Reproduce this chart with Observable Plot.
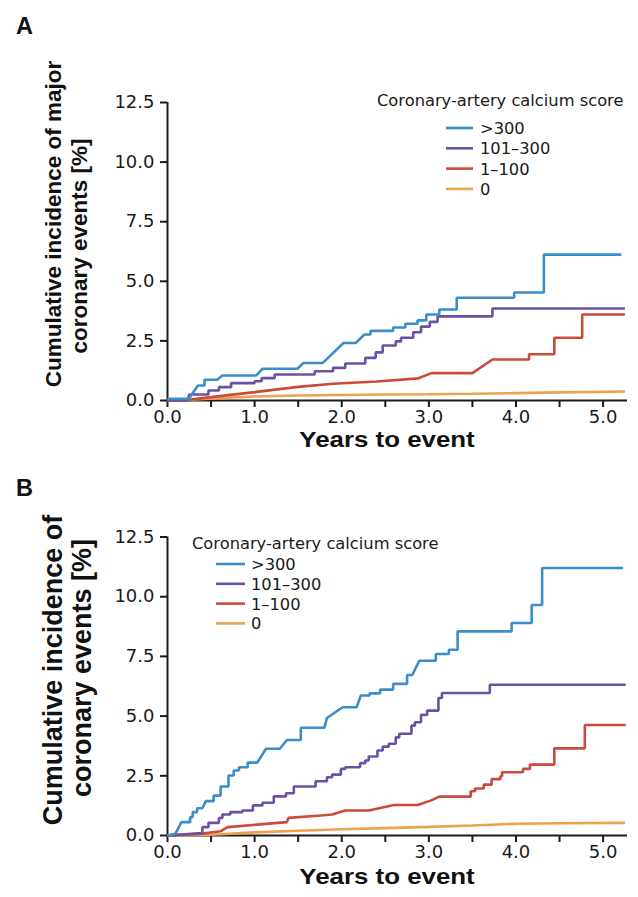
<!DOCTYPE html>
<html><head><meta charset="utf-8">
<script src="https://cdn.jsdelivr.net/npm/d3@7"></script>
<script src="https://cdn.jsdelivr.net/npm/@observablehq/plot@0.6"></script>
<style>
body{margin:0;background:#fff;}
#wrap{position:relative;width:638px;height:897px;overflow:hidden;background:#fff;}
#wrap svg{position:absolute;left:0;overflow:visible;}
.tag{position:absolute;left:16px;font:bold 23.5px "Liberation Sans",Arial,sans-serif;color:#111;}
</style></head><body><div id="wrap"><div class="tag" style="top:13px">A</div><div class="tag" style="top:475px">B</div></div>
<script>
const groups = [">300", "101–300", "1–100", "0"];
const colors = ["#3a8ec9", "#6a51a3", "#cb4a3b", "#eca24f"];
const xTicks = [0, 0.5, 1, 1.5, 2, 2.5, 3, 3.5, 4, 4.5, 5];
const yTicks = [0, 2.5, 5, 7.5, 10, 12.5];
const legendTitle = "Coronary-artery calcium score";
const xTitle = "Years to event";
const yTitleA = ["Cumulative incidence of major", "coronary events [%]"];
const yTitleB = ["Cumulative incidence of", "coronary events [%]"];

// Panel A
const aX300 = [0,0.245,0.35,0.425,0.425,0.57,0.63,1.02,1.09,1.49,1.56,1.78,2.02,2.16,2.26,2.33,2.33,2.59,2.59,2.73,2.73,2.87,2.87,2.97,2.97,3.12,3.12,3.32,3.32,3.98,3.98,4.32,4.32,5.21];
const aY300 = [0.07,0.07,0.63,0.63,0.87,0.87,1.05,1.05,1.33,1.33,1.57,1.57,2.41,2.41,2.77,2.77,2.92,2.92,3.06,3.06,3.22,3.22,3.36,3.36,3.61,3.61,3.82,3.82,4.31,4.31,4.53,4.53,6.12,6.12];
const aX101 = [0,0.23,0.25,0.47,0.47,0.59,0.59,0.73,0.73,1.0,1.0,1.08,1.08,1.23,1.23,1.69,1.69,1.90,1.90,2.04,2.04,2.27,2.27,2.39,2.39,2.47,2.47,2.62,2.62,2.68,2.68,2.82,2.82,2.91,2.91,3.01,3.01,3.10,3.10,3.73,3.73,5.25];
const aY101 = [0,0,0.25,0.25,0.42,0.42,0.56,0.56,0.73,0.73,0.81,0.81,0.94,0.94,1.09,1.09,1.23,1.23,1.37,1.37,1.55,1.55,1.79,1.79,2.02,2.02,2.31,2.31,2.48,2.48,2.63,2.63,2.86,2.86,3.10,3.10,3.30,3.30,3.53,3.53,3.86,3.86];
const aX1 = [0,0.17,0.5,1.0,1.5,1.9,2.4,2.88,3.03,3.50,3.73,4.15,4.15,4.44,4.44,4.76,4.76,5.25];
const aY1 = [0,0,0.14,0.35,0.57,0.70,0.80,0.93,1.15,1.15,1.72,1.72,1.94,1.94,2.63,2.63,3.61,3.61];
const aX0 = [0,0.3,0.6,1.0,1.5,2.0,2.5,3.0,3.5,4.0,4.5,5.25];
const aY0 = [0,0.04,0.10,0.17,0.21,0.23,0.25,0.26,0.28,0.31,0.34,0.38];

// Panel B
const bX300 = [0,0.09,0.16,0.26,0.26,0.29,0.29,0.34,0.34,0.40,0.44,0.53,0.53,0.61,0.61,0.70,0.70,0.76,0.76,0.82,0.82,0.92,0.92,1.03,1.13,1.29,1.37,1.53,1.53,1.80,1.83,2.01,2.17,2.22,2.32,2.32,2.44,2.44,2.59,2.59,2.75,2.75,2.81,2.89,3.08,3.08,3.23,3.23,3.33,3.33,3.95,3.95,4.18,4.18,4.30,4.30,5.23];
const bY300 = [0,0.07,0.56,0.56,0.77,0.77,0.98,0.98,1.14,1.14,1.44,1.44,1.67,1.67,2.05,2.05,2.51,2.51,2.72,2.72,2.86,2.86,3.05,3.05,3.63,3.63,4.00,4.00,4.51,4.51,4.92,5.37,5.37,5.86,5.86,5.95,5.95,6.11,6.11,6.35,6.35,6.72,6.72,7.32,7.32,7.60,7.60,7.78,7.78,8.55,8.55,8.90,8.90,9.65,9.65,11.20,11.20];
const bX101 = [0,0.40,0.40,0.47,0.47,0.59,0.59,0.63,0.63,0.72,0.72,0.86,0.86,0.98,0.98,1.09,1.09,1.22,1.22,1.36,1.36,1.45,1.45,1.70,1.70,1.83,1.83,1.89,1.89,1.99,1.99,2.04,2.04,2.21,2.21,2.27,2.27,2.31,2.31,2.41,2.41,2.47,2.47,2.54,2.54,2.62,2.62,2.66,2.66,2.80,2.80,2.84,2.84,2.91,2.91,2.98,2.98,3.11,3.11,3.15,3.15,3.70,3.70,5.26];
const bY101 = [0,0.10,0.35,0.35,0.53,0.53,0.73,0.73,0.88,0.88,0.98,0.98,1.05,1.05,1.26,1.26,1.37,1.37,1.64,1.64,1.77,1.77,2.05,2.05,2.27,2.27,2.44,2.44,2.55,2.55,2.79,2.79,2.86,2.86,3.03,3.03,3.14,3.14,3.31,3.31,3.56,3.56,3.72,3.72,3.84,3.84,4.11,4.11,4.26,4.26,4.60,4.60,4.74,4.74,5.05,5.05,5.23,5.23,5.76,5.76,5.97,5.97,6.31,6.31];
const bX1 = [0,0.40,0.61,0.69,1.37,1.39,1.76,1.89,2.04,2.31,2.60,2.87,3.02,3.12,3.48,3.48,3.53,3.53,3.63,3.63,3.72,3.72,3.82,3.82,3.84,3.84,4.08,4.08,4.16,4.16,4.44,4.44,4.79,4.79,5.26];
const bY1 = [0,0.08,0.18,0.35,0.56,0.74,0.84,0.88,1.05,1.05,1.28,1.28,1.46,1.63,1.63,1.85,1.85,1.97,1.97,2.13,2.13,2.36,2.36,2.48,2.48,2.65,2.65,2.79,2.79,2.97,2.97,3.65,3.65,4.63,4.63];
const bX0 = [0,0.5,1.0,1.5,2.0,2.5,3.0,3.5,4.0,4.5,5.25];
const bY0 = [0,0.03,0.13,0.20,0.26,0.31,0.36,0.42,0.49,0.51,0.53];

function rows(list) {
  const out = [];
  list.forEach(([name, xs, ys]) => xs.forEach((x, i) => out.push({group: name, year: x, inc: ys[i]})));
  return out;
}

function panel(cfg) {
  const data = rows(cfg.series);
  const svg = Plot.plot({
    width: 638, height: cfg.height,
    marginLeft: 167, marginRight: 11, marginTop: cfg.mt, marginBottom: cfg.mb,
    style: {fontFamily: "'DejaVu Sans', sans-serif", fontSize: "18px", color: "#1a1a1a", background: "transparent", overflow: "visible"},
    x: {domain: [0, 5.28]},
    y: {domain: [0, 12.5]},
    color: {domain: groups, range: colors},
    marks: [
      Plot.axisX({ticks: xTicks, tickFormat: d => Number.isInteger(d) ? d.toFixed(1) : "", tickSize: 7, tickPadding: 3, strokeWidth: 2, fontSize: 18, label: null}),
      Plot.axisY({ticks: yTicks, tickFormat: d => d.toFixed(1), tickSize: 7, tickPadding: 6, strokeWidth: 2, fontSize: 18, label: null}),
      Plot.ruleX([0], {stroke: "#1a1a1a", strokeWidth: 2}),
      Plot.ruleY([0], {stroke: "#1a1a1a", strokeWidth: 2}),
      Plot.line(data, {x: "year", y: "inc", z: "group", stroke: "group", strokeWidth: 2.6, strokeLinejoin: "miter", strokeLinecap: "butt"})
    ]
  });
  svg.style.top = cfg.top + "px";
  const s = d3.select(svg);
  const bold = "'Liberation Sans', Arial, sans-serif";
  cfg.yTitle.forEach((t, i) => {
    s.append("text").attr("transform", `translate(${cfg.yLabX[i]},${cfg.yLabY[i]}) rotate(-90)`)
      .attr("text-anchor", "middle").attr("font-family", bold).attr("font-weight", "bold")
      .attr("font-size", cfg.yFont).attr("fill", "#111").text(t);
  });
  s.append("text").attr("transform", `translate(387,${cfg.xTitleY}) scale(1.15,1)`)
    .attr("text-anchor", "middle").attr("font-family", bold).attr("font-weight", "bold")
    .attr("font-size", 22.5).attr("fill", "#111").text(xTitle);
  const lg = s.append("g").attr("font-family", "'DejaVu Sans', sans-serif").attr("font-size", 16.3)
    .attr("fill", "#1a1a1a").attr("text-anchor", "start");
  lg.append("text").attr("x", cfg.lg.tx).attr("y", cfg.lg.ty).text(legendTitle);
  groups.forEach((g, i) => {
    const yy = cfg.lg.ry + i * cfg.lg.dy;
    lg.append("line").attr("x1", cfg.lg.sx).attr("x2", cfg.lg.sx + cfg.lg.sw).attr("y1", yy).attr("y2", yy)
      .attr("stroke", colors[i]).attr("stroke-width", 2.6);
    lg.append("text").attr("x", cfg.lg.lx).attr("y", yy + 6).text(g);
  });
  document.getElementById("wrap").appendChild(svg);
}

panel({
  top: 0, height: 460, mt: 102, mb: 60,
  series: [["0", aX0, aY0], ["1–100", aX1, aY1], ["101–300", aX101, aY101], [">300", aX300, aY300]],
  yTitle: yTitleA, yLabX: [61, 87], yLabY: [224, 246], yFont: 22.5, xTitleY: 447,
  lg: {tx: 377, ty: 106, sx: 446, sw: 27, lx: 480, ry: 128, dy: 20.3}
});
const topB = 460;
panel({
  top: topB, height: 437, mt: 76.5, mb: 62,
  series: [["0", bX0, bY0], ["1–100", bX1, bY1], ["101–300", bX101, bY101], [">300", bX300, bY300]],
  yTitle: yTitleB, yLabX: [62, 91], yLabY: [670 - topB, 668 - topB], yFont: 27, xTitleY: 884 - topB,
  lg: {tx: 192, ty: 548.5 - topB, sx: 216, sw: 29, lx: 251, ry: 564 - topB, dy: 19.8}
});
</script></body></html>
